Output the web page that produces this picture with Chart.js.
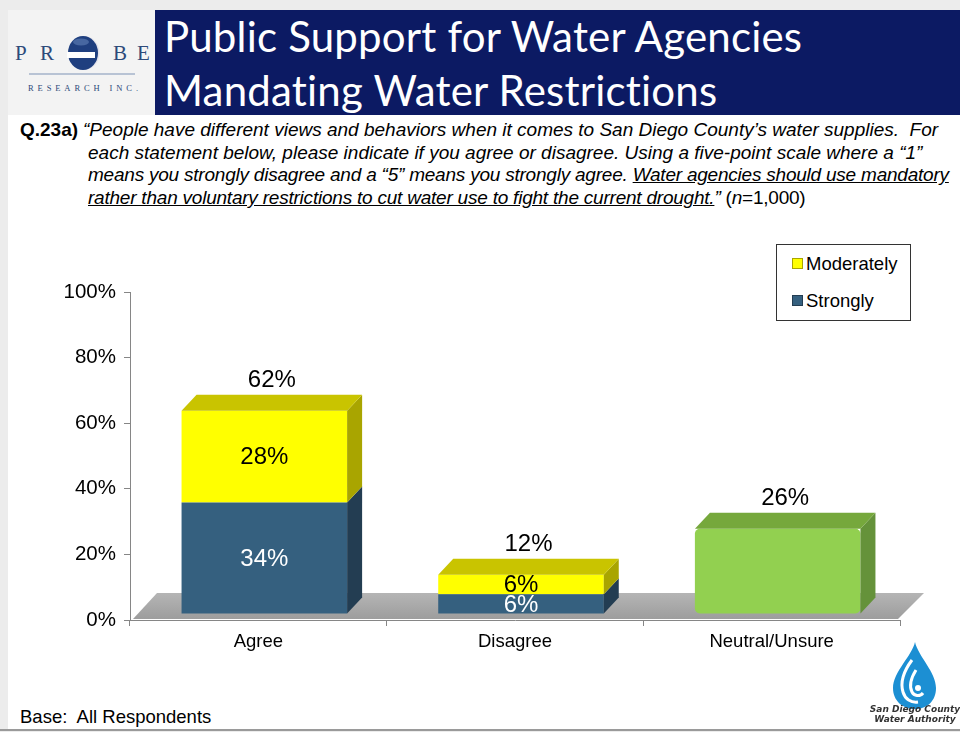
<!DOCTYPE html>
<html>
<head>
<meta charset="utf-8">
<script src="https://cdn.jsdelivr.net/npm/chart.js@4.4.1/dist/chart.umd.min.js"></script>
<style>
  html, body { margin: 0; padding: 0; }
  body { width: 960px; height: 732px; background: #ececec; position: relative; overflow: hidden; font-family: "Liberation Sans", Arial, sans-serif; }
  .panel { position: absolute; left: 8px; top: 10px; width: 952px; height: 719px; background: #fff; }
  .logoBox { position: absolute; left: 8px; top: 10px; width: 147px; height: 105px; background: #f3f3f3; }
  .banner { position: absolute; left: 155px; top: 10px; width: 805px; height: 105px; background: #0c1a63; }
  .title { position: absolute; left: 164px; color: #fff; font-family: "Lato", "Open Sans", sans-serif; font-size: 42px; letter-spacing: 0.2px; white-space: nowrap; line-height: 1; font-variant-ligatures: none; }
  .question { position: absolute; left: 20px; top: 119px; width: 940px; font-size: 19px; line-height: 22.7px; color: #000; white-space: nowrap; }
  .question .q { font-weight: bold; display: inline-block; width: 63px; }
  .question .ind { padding-left: 68px; }
  .question .tight { letter-spacing: -0.22px; }
  .base { position: absolute; left: 20px; top: 706px; font-size: 18.5px; color: #000; }
  .bottomLine { position: absolute; left: 0; top: 729px; width: 960px; height: 2px; background: #9a9a9a; }
  #chartWrap { position: absolute; left: 0; top: 240px; width: 960px; height: 430px; }
  .legend { position: absolute; left: 776px; top: 244px; width: 133px; height: 75px; border: 1px solid #333; background: #fff; font-size: 18.5px; }
  .legend .item { position: absolute; left: 15px; height: 22px; line-height: 22px; white-space: nowrap; }
  .legend .mark { display: inline-block; width: 9px; height: 9px; margin-right: 3px; vertical-align: 1px; }
</style>
</head>
<body>
<div class="panel"></div>
<div class="logoBox">
  <svg width="147" height="105" viewBox="0 0 147 105">
    <g font-family="Liberation Serif, DejaVu Serif, serif" font-size="21" fill="#2d4a7a">
      <text x="7" y="50">P</text>
      <text x="32" y="50">R</text>
      <text x="105" y="50">B</text>
      <text x="129" y="50">E</text>
    </g>
    <g transform="translate(75,43)">
      <ellipse cx="1" cy="0" rx="15.5" ry="17" fill="#e2e2ea"/>
      <ellipse cx="0" cy="0" rx="15" ry="17" fill="#1f3f7f"/>
      <rect x="-16" y="-1" width="28" height="6" fill="#fff"/>
      <ellipse cx="-2" cy="-11" rx="8" ry="3.5" fill="#6f8fc4" opacity="0.5"/>
    </g>
    <line x1="21" y1="64" x2="127" y2="64" stroke="#7f93b5" stroke-width="1.2"/>
    <text x="20" y="81" font-family="Liberation Serif, DejaVu Serif, serif" font-size="8.5" fill="#2d4a7a" textLength="110" lengthAdjust="spacing">RESEARCH INC.</text>
  </svg>
</div>
<div class="banner"></div>
<div class="title" style="top:15px;">Public Support for Water Agencies</div>
<div class="title" style="top:69px;">Mandating Water Restrictions</div>

<div class="question">
  <span class="q">Q.23a)</span><i>“People have different views and behaviors when it comes to San Diego County’s water supplies.&nbsp; For</i><br>
  <div class="ind"><i>each statement below, please indicate if you agree or disagree. Using a five-point scale where a “1”</i><br>
  <i class="tight">means you strongly disagree and a “5” means you strongly agree. <u>Water agencies should use mandatory</u></i><br>
  <span class="tight"><i><u>rather than voluntary restrictions to cut water use to fight the current drought.</u>”</i> (<i>n</i>=1,000)</span></div>
</div>

<div id="chartWrap"><canvas id="chart" width="960" height="430"></canvas></div>
<div class="legend" id="legend"></div>

<div class="base">Base:&nbsp; All Respondents</div>
<svg style="position:absolute;left:866px;top:640px;" width="94" height="90" viewBox="0 0 94 90">
  <path d="M49 2 C46 16 27 32 27 48 C27 61 37 69 49 69 C61 69 70 61 70 48 C70 32 52 16 49 2 Z" fill="#1c8fd3"/>
  <path d="M46 20 C37 32 34 42 37 52 C39 59 45 63 52 62" fill="none" stroke="#fff" stroke-width="3"/>
  <path d="M50 30 C45 38 43 46 46 52 C48 56 54 57 57 53" fill="none" stroke="#fff" stroke-width="3"/>
  <circle cx="52" cy="48" r="3" fill="#fff"/>
  <text x="49" y="72" text-anchor="middle" font-family="DejaVu Sans, sans-serif" font-size="9" font-weight="bold" font-style="italic" fill="#333">San Diego County</text>
  <text x="49" y="82" text-anchor="middle" font-family="DejaVu Sans, sans-serif" font-size="9" font-weight="bold" font-style="italic" fill="#333">Water Authority</text>
</svg>
<div class="bottomLine"></div>

<script>
// chart data
const categories = ['Agree', 'Disagree', 'Neutral/Unsure'];
const strongly = [34, 6, null];
const moderately = [28, 6, null];
const neutral = [null, null, 26];
const totals = [62, 12, 26];
const yTickStep = 20;

// 3D look of the bars (front / side / top colours)
const looks = [
  { front: '#35607f', side: '#233d52', top: '#2c4f6a', label: '#ffffff' },
  { front: '#ffff00', side: '#a9a500', top: '#c9c400', label: '#000000' },
  { front: '#92d050', side: '#65923a', top: '#76a83c', label: '#000000' }
];
const DX = 15, DY = 16;          // depth of the bars
const SHIFT_X = 6, SHIFT_Y = -6; // bars sit a bit behind the axis
const FONT = '"Liberation Sans", Arial, sans-serif';

function face(ctx, pts, color) {
    ctx.beginPath();
    ctx.moveTo(pts[0][0], pts[0][1]);
    for (let i = 1; i < pts.length; i++) ctx.lineTo(pts[i][0], pts[i][1]);
    ctx.closePath();
    ctx.fillStyle = color;
    ctx.fill();
}

const bar3d = {
    id: 'bar3d',
    beforeDatasetsDraw(chart) {
        const { ctx, chartArea: a } = chart;
        // grey floor
        ctx.save();
        const g = ctx.createLinearGradient(0, a.bottom - 26, 0, a.bottom);
        g.addColorStop(0, '#b4b4b4');
        g.addColorStop(1, '#9c9c9c');
        face(ctx, [[a.left + 3, a.bottom - 1], [a.right - 2, a.bottom - 1],
                   [a.right + 24, a.bottom - 27], [a.left + 27, a.bottom - 27]], g);
        ctx.restore();
        ctx.save();
        ctx.translate(SHIFT_X, SHIFT_Y);
    },
    afterDatasetsDraw(chart) {
        const { ctx } = chart;
        const n = chart.data.labels.length;
        const tops = [];
        chart.data.datasets.forEach((ds, di) => {
            const meta = chart.getDatasetMeta(di);
            meta.data.forEach((el, i) => {
                if (ds.data[i] == null) return;
                const p = el.getProps(['x', 'y', 'base', 'width'], true);
                const l = p.x - p.width / 2, r = p.x + p.width / 2;
                face(ctx, [[r, p.y], [r + DX, p.y - DY], [r + DX, p.base - DY], [r, p.base]], looks[di].side);
                tops[i] = { p, l, r, di };
            });
        });
        for (let i = 0; i < n; i++) {
            const t = tops[i];
            if (!t) continue;
            face(ctx, [[t.l, t.p.y], [t.l + DX, t.p.y - DY], [t.r + DX, t.p.y - DY], [t.r, t.p.y]], looks[t.di].top);
        }
        // value labels
        ctx.textAlign = 'center';
        ctx.textBaseline = 'middle';
        ctx.font = '24px ' + FONT;
        [strongly, moderately].forEach((vals, di) => {
            const meta = chart.getDatasetMeta(di);
            meta.data.forEach((el, i) => {
                if (vals[i] == null) return;
                const p = el.getProps(['x', 'y', 'base'], true);
                ctx.fillStyle = looks[di].label;
                ctx.fillText(vals[i] + '%', p.x, (p.y + p.base) / 2 + 1);
            });
        });
        ctx.fillStyle = '#000';
        for (let i = 0; i < n; i++) {
            const t = tops[i];
            if (!t) continue;
            ctx.fillText(totals[i] + '%', t.p.x + DX / 2, t.p.y - 30);
        }
        ctx.restore();
    }
};

const chart = new Chart(document.getElementById('chart'), {
    type: 'bar',
    data: {
        labels: categories,
        datasets: [
            { label: 'Strongly', data: strongly, backgroundColor: looks[0].front },
            { label: 'Moderately', data: moderately, backgroundColor: looks[1].front },
            { label: 'Neutral/Unsure', data: neutral, backgroundColor: looks[2].front, borderRadius: 5, borderSkipped: false }
        ]
    },
    options: {
        responsive: false,
        animation: false,
        devicePixelRatio: 1,
        layout: { padding: { left: 0, right: 60, top: 52, bottom: 0 } },
        datasets: { bar: { categoryPercentage: 1, barPercentage: 0.645 } },
        plugins: { legend: { display: false }, tooltip: { enabled: false } },
        scales: {
            x: {
                stacked: true,
                grid: { offset: true, drawOnChartArea: false, tickLength: 6, color: '#868686' },
                border: { color: '#868686' },
                ticks: { color: '#000', padding: 5, font: { size: 18.5, family: FONT } },
                afterFit(s) { s.height = 50; }
            },
            y: {
                stacked: true,
                min: 0,
                max: 100,
                grid: { drawOnChartArea: false, tickLength: 6, color: '#868686' },
                border: { color: '#868686' },
                ticks: {
                    stepSize: yTickStep,
                    color: '#000',
                    padding: 8,
                    font: { size: 20.5, family: FONT },
                    callback: v => v + '%'
                },
                afterFit(s) { s.width = 130; }
            }
        }
    },
    plugins: [bar3d]
});

// legend box: Moderately above Strongly, as on the slide
const legendItems = [
    { name: 'Moderately', look: looks[1] },
    { name: 'Strongly', look: looks[0] }
];
const legendEl = document.getElementById('legend');
legendItems.forEach((it, k) => {
    const d = document.createElement('div');
    d.className = 'item';
    d.style.top = (8 + k * 37) + 'px';
    d.innerHTML = '<span class="mark" style="background:' + it.look.front + ';border:1px solid ' + it.look.side + '"></span>' + it.name;
    legendEl.appendChild(d);
});
</script>
</body>
</html>
